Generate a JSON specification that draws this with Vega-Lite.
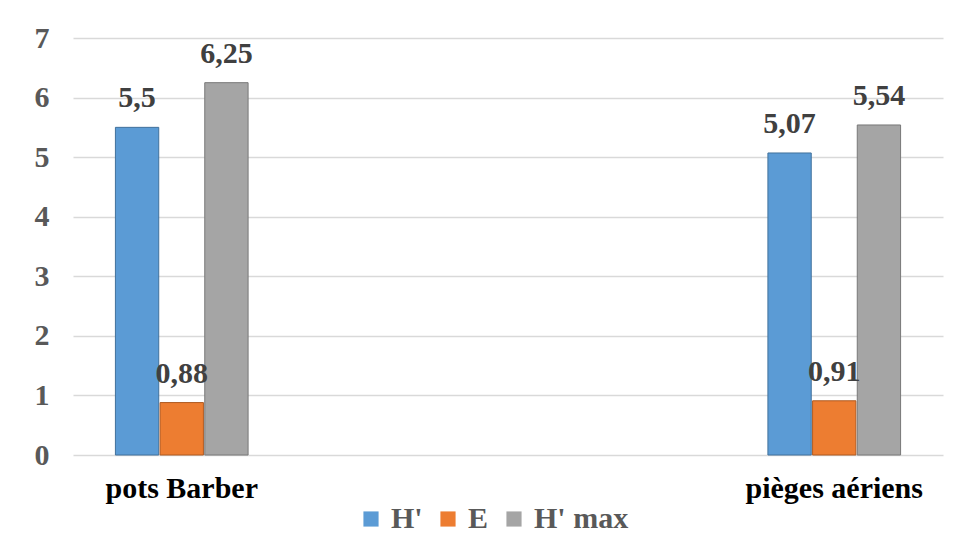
{
  "$schema": "https://vega.github.io/schema/vega-lite/v6.json",
  "width": 870,
  "height": 417,
  "autosize": {"type": "none"},
  "padding": {"left": 73, "top": 38, "right": 14, "bottom": 82},
  "background": "white",
  "config": {
    "view": {"stroke": null},
    "locale": {"number": {"decimal": ",", "thousands": " ", "grouping": [3], "currency": ["", " €"]}},
    "font": "Liberation Serif"
  },
  "data": {
    "values": [
      {"site": "pots Barber", "indice": "H'", "valeur": 5.5},
      {"site": "pots Barber", "indice": "E", "valeur": 0.88},
      {"site": "pots Barber", "indice": "H' max", "valeur": 6.25},
      {"site": "pièges aériens", "indice": "H'", "valeur": 5.07},
      {"site": "pièges aériens", "indice": "E", "valeur": 0.91},
      {"site": "pièges aériens", "indice": "H' max", "valeur": 5.54}
    ]
  },
  "encoding": {
    "x": {
      "field": "site",
      "type": "nominal",
      "scale": {"domain": ["pots Barber", "_vide1", "_vide2", "pièges aériens"], "paddingInner": 0.39, "paddingOuter": 0.195},
      "axis": {
        "title": null,
        "domain": false,
        "ticks": false,
        "labelAngle": 0,
        "labelExpr": "indexof(datum.value, '_vide') === 0 ? '' : datum.value",
        "labelFont": "Liberation Serif",
        "labelFontWeight": "bold",
        "labelFontSize": 30,
        "labelColor": "#000000",
        "labelPadding": 18
      }
    },
    "xOffset": {
      "field": "indice",
      "type": "nominal",
      "scale": {"domain": ["H'", "E", "H' max"], "paddingInner": 0.03}
    },
    "y": {
      "field": "valeur",
      "type": "quantitative",
      "scale": {"domain": [0, 7], "nice": false},
      "axis": {
        "title": null,
        "domain": false,
        "ticks": false,
        "values": [0, 1, 2, 3, 4, 5, 6, 7],
        "format": "d",
        "grid": true,
        "gridColor": "#d9d9d9",
        "gridWidth": 1.3,
        "labelFont": "Liberation Serif",
        "labelFontWeight": "bold",
        "labelFontSize": 30,
        "labelColor": "#595959",
        "labelPadding": 24
      }
    }
  },
  "layer": [
    {
      "mark": {"type": "bar", "strokeWidth": 1},
      "encoding": {
        "color": {
          "field": "indice",
          "type": "nominal",
          "scale": {"domain": ["H'", "E", "H' max"], "range": ["#5b9bd5", "#ed7d31", "#a5a5a5"]},
          "legend": {
            "title": null,
            "orient": "none",
            "legendX": 283,
            "legendY": 466,
            "direction": "horizontal",
            "symbolType": "square",
            "symbolSize": 230,
            "symbolStrokeWidth": 0,
            "symbolOpacity": 1,
            "labelFont": "Liberation Serif",
            "labelFontWeight": "bold",
            "labelFontSize": 30,
            "labelColor": "#595959",
            "labelOffset": 5,
            "columnPadding": 10
          }
        },
        "stroke": {
          "field": "indice",
          "type": "nominal",
          "scale": {"domain": ["H'", "E", "H' max"], "range": ["#41719c", "#ae5a21", "#787878"]},
          "legend": null
        }
      }
    },
    {
      "mark": {"type": "text", "baseline": "alphabetic", "dy": -20, "font": "Liberation Serif", "fontWeight": "bold", "fontSize": 30, "color": "#404040"},
      "encoding": {
        "text": {"field": "valeur", "type": "quantitative", "format": "~r"}
      }
    }
  ]
}
